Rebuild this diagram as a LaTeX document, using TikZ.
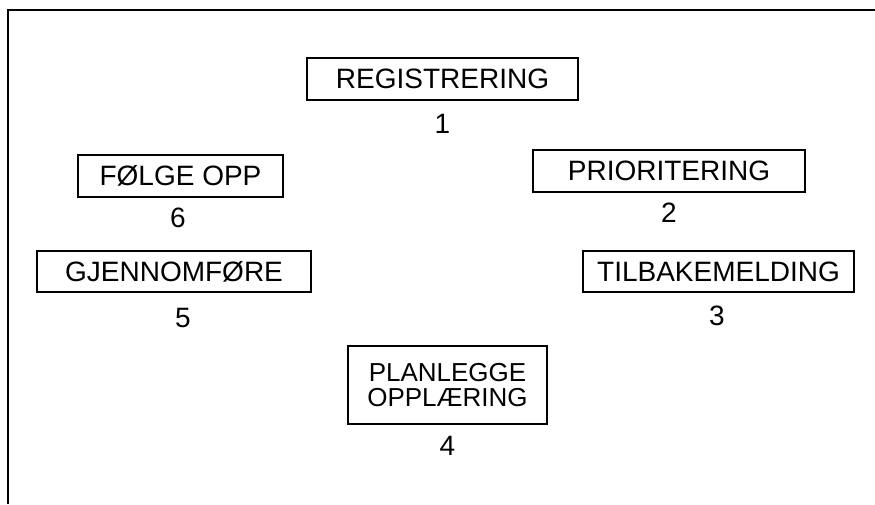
\documentclass[tikz,border=0pt]{standalone}
\usepackage{fontspec}
\setmainfont{Liberation Sans}
\usetikzlibrary{positioning}
\tikzset{
  taskbox/.style={draw,line width=1.3pt,inner sep=0pt,minimum height=42pt,font=\fontsize{28}{30}\selectfont},
  tasknum/.style={inner sep=0pt,font=\fontsize{28}{30}\selectfont},
  frameline/.style={line width=1.8pt}
}

\begin{document}
\begin{tikzpicture}[x=1pt,y=-1pt]
  \useasboundingbox (0,0) rectangle (875,504);
  \draw[frameline] (8,504) -- (8,10) -- (875,10);
  \node[taskbox,minimum width=271pt] (reg) at (442.5,79) {REGISTRERING};
  \node[taskbox,minimum width=272pt] (prior) at (669,171) {PRIORITERING};
  \node[taskbox,minimum width=271pt,minimum height=41pt] (tilb) at (718.5,271.5) {TILBAKEMELDING};
  \node[taskbox,minimum width=199pt,minimum height=78pt,align=center,
        font=\fontsize{26}{25}\selectfont] (plan) at (447.5,385) {PLANLEGGE\\OPPLÆRING};
  \node[taskbox,minimum width=274pt,minimum height=41pt] (gjenn) at (174,271.5) {GJENNOMFØRE};
  \node[taskbox,minimum width=205pt] (folge) at (180.5,176) {FØLGE OPP};
  \node[tasknum,below=13pt of reg] (n1) {1};
  \node[tasknum,below=10pt of prior] (n2) {2};
  \node[tasknum,below=13pt of tilb,xshift=-1.5pt] (n3) {3};
  \node[tasknum,below=11pt of plan] (n4) {4};
  \node[tasknum,below=15pt of gjenn,xshift=9pt] (n5) {5};
  \node[tasknum,below=10pt of folge,xshift=-2.5pt] (n6) {6};
\end{tikzpicture}
\end{document}
